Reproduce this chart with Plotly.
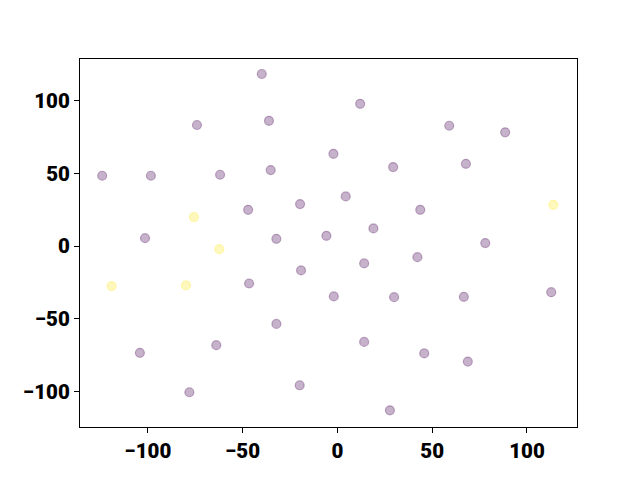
import plotly.graph_objects as go

purple_x = [-39.9, -74.1, -36.1, -124.1, -98.4, -61.9, -35.2, -47.1, -19.7, -101.5,
            -32.2, -5.8, -2.1, 12.0, 59.0, 88.5, 29.4, 67.8, 4.4, 43.7,
            19.0, 78.0, -46.6, -19.2, -32.2, -104.2, -63.9, -78.1, -19.9, 14.1,
            42.2, -1.9, 29.9, 66.7, 112.8, 14.1, 45.8, 68.8, 27.7]
purple_y = [118.4, 83.3, 86.2, 48.4, 48.4, 49.1, 52.3, 25.0, 28.9, 5.5,
            5.0, 7.1, 63.5, 97.9, 82.8, 78.3, 54.4, 56.6, 34.2, 25.0,
            12.2, 2.1, -25.7, -16.7, -53.5, -73.4, -68.1, -100.5, -95.7, -11.9,
            -7.6, -34.6, -35.1, -34.9, -31.7, -65.9, -73.8, -79.4, -112.9]
yellow_x = [-75.7, 113.9, -62.3, -119.1, -79.9]
yellow_y = [20.0, 28.4, -2.1, -27.5, -27.0]

tick_vals = [-100, -50, 0, 50, 100]
tick_text = ["\u2212100", "\u221250", "0", "50", "100"]

fig = go.Figure()
fig.add_trace(go.Scatter(
    x=purple_x, y=purple_y, mode="markers",
    marker=dict(size=9, color="rgba(68,1,84,0.3)",
                line=dict(color="rgba(68,1,84,0.3)", width=1.2)),
    showlegend=False, hoverinfo="skip"))
fig.add_trace(go.Scatter(
    x=yellow_x, y=yellow_y, mode="markers",
    marker=dict(size=9, color="rgba(253,231,37,0.3)",
                line=dict(color="rgba(253,231,37,0.3)", width=1.2)),
    showlegend=False, hoverinfo="skip"))

axis_common = dict(
    showgrid=False, zeroline=False, showline=True, linecolor="black", linewidth=1,
    mirror=True, ticks="outside", ticklen=5, tickwidth=1, tickcolor="black",
    tickfont=dict(family="Roboto", size=20.5, color="black", weight=900),
    tickvals=tick_vals, ticktext=tick_text,
)
fig.update_xaxes(range=[-135.8, 126.4], **axis_common)
fig.update_yaxes(range=[-124.4, 128.7], **axis_common)

fig.update_layout(
    width=640, height=480,
    margin=dict(l=72, r=71, t=51, b=61),
    plot_bgcolor="white", paper_bgcolor="white",
)
fig.write_html("out.html")
